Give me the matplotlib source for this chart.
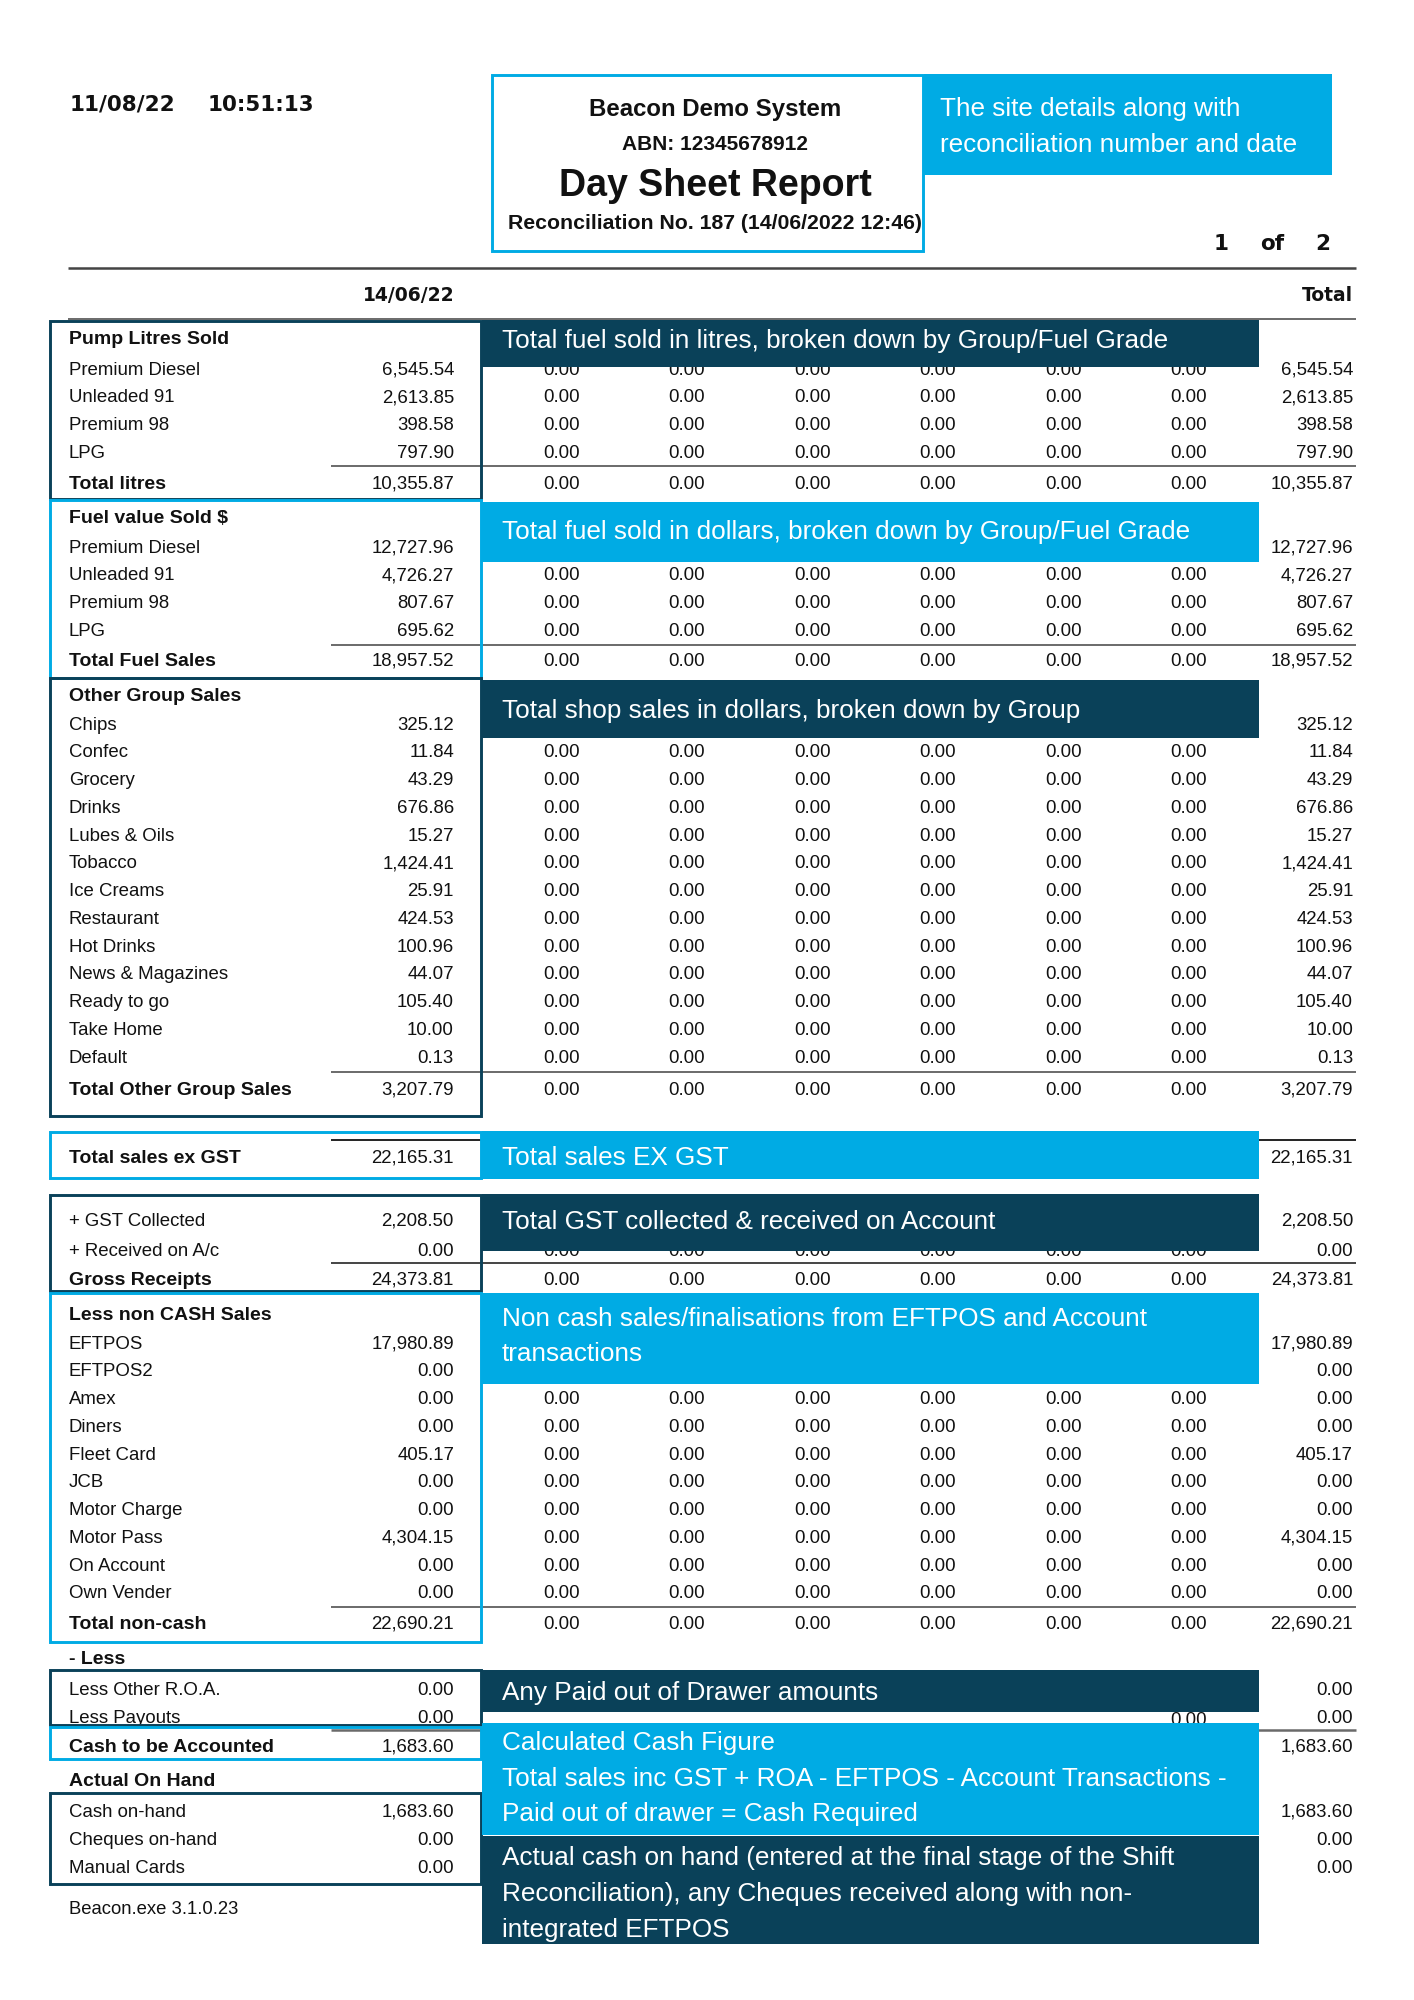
import matplotlib.pyplot as plt
from matplotlib.patches import Rectangle

# report values
pump_labels = ['Premium Diesel', 'Unleaded 91', 'Premium 98', 'LPG']
pump_litres = [6545.54, 2613.85, 398.58, 797.90]
total_litres = 10355.87

fuel_labels = ['Premium Diesel', 'Unleaded 91', 'Premium 98', 'LPG']
fuel_value = [12727.96, 4726.27, 807.67, 695.62]
total_fuel = 18957.52

group_labels = ['Chips', 'Confec', 'Grocery', 'Drinks', 'Lubes & Oils', 'Tobacco',
                'Ice Creams', 'Restaurant', 'Hot Drinks', 'News & Magazines',
                'Ready to go', 'Take Home', 'Default']
group_sales = [325.12, 11.84, 43.29, 676.86, 15.27, 1424.41, 25.91, 424.53,
               100.96, 44.07, 105.40, 10.00, 0.13]
total_group = 3207.79

total_ex_gst = 22165.31
gst_collected = 2208.50
received_on_ac = 0.00
gross_receipts = 24373.81

noncash_labels = ['EFTPOS', 'EFTPOS2', 'Amex', 'Diners', 'Fleet Card', 'JCB',
                  'Motor Charge', 'Motor Pass', 'On Account', 'Own Vender']
noncash_sales = [17980.89, 0.00, 0.00, 0.00, 405.17, 0.00, 0.00, 4304.15, 0.00, 0.00]
total_noncash = 22690.21

less_other_roa = 0.00
less_payouts = 0.00
cash_to_account = 1683.60
on_hand_labels = ['Cash on-hand', 'Cheques on-hand', 'Manual Cards']
on_hand = [1683.60, 0.00, 0.00]

# the six empty shift columns
shift_cols = [0.00, 0.00, 0.00, 0.00, 0.00, 0.00]

notes = {
    'site': 'The site details along with\nreconciliation number and date',
    'litres': 'Total fuel sold in litres, broken down by Group/Fuel Grade',
    'dollars': 'Total fuel sold in dollars, broken down by Group/Fuel Grade',
    'shop': 'Total shop sales in dollars, broken down by Group',
    'exgst': 'Total sales EX GST',
    'gst': 'Total GST collected & received on Account',
    'noncash': 'Non cash sales/finalisations from EFTPOS and Account\ntransactions',
    'payout': 'Any Paid out of Drawer amounts',
    'cash': 'Calculated Cash Figure\nTotal sales inc GST + ROA - EFTPOS - Account Transactions -\nPaid out of drawer = Cash Required',
    'onhand': 'Actual cash on hand (entered at the final stage of the Shift\nReconciliation), any Cheques received along with non-\nintegrated EFTPOS',
}

DARK = '#0a4159'
LIGHT = '#00abe4'
INK = '#111111'
GREY = '#6a6a6a'
FONT = 'Liberation Sans'
WIDE = 'DejaVu Sans'
DPI = 100

fig = plt.figure(figsize=(14.14, 20), dpi=DPI)
ax = fig.add_axes([0, 0, 1, 1])
ax.set_xlim(0, 1414)
ax.set_ylim(2000, 0)
ax.axis('off')

LABEL_X = 69
DAY_X = 454
COL_X = [580, 705, 831, 956, 1082, 1207]
TOT_X = 1353
NOTE_X0, NOTE_X1 = 482, 1259


def txt(x, yc, s, size=13.4, bold=False, ha='left', color=INK, z=2, family=FONT):
    ax.text(x, yc + 0.36 * size * DPI / 72, s, fontsize=size, family=family,
            fontweight='bold' if bold else 'normal', ha=ha, va='baseline',
            color=color, zorder=z)


def row(y, label, day, cols=shift_cols, bold=False, total=True):
    txt(LABEL_X, y, label, size=14 if bold else 13.4, bold=bold)
    txt(DAY_X, y, f'{day:,.2f}', ha='right')
    if cols is not None:
        for x, v in zip(COL_X, cols):
            txt(x, y, f'{v:,.2f}', ha='right')
    if total:
        txt(TOT_X, y, f'{day:,.2f}', ha='right')


def box(y0, y1, color):
    ax.add_patch(Rectangle((50, y0), 431, y1 - y0, fill=False, ec=color,
                           lw=2.1, zorder=3))


def note(y0, y1, key, color, ytext, step=35.5):
    ax.add_patch(Rectangle((NOTE_X0, y0), NOTE_X1 - NOTE_X0, y1 - y0,
                           fc=color, ec='none', zorder=4))
    for i, line in enumerate(notes[key].split('\n')):
        txt(502, ytext + i * step, line, size=18.8, color='white', z=5)


def rule(y, x0=331, x1=1356, lw=1.4, c=GREY):
    ax.plot([x0, x1], [y, y], color=c, lw=lw, zorder=1, solid_capstyle='butt')


# header
txt(70, 103, '11/08/22', size=15.5, bold=True, family=WIDE)
txt(208, 103, '10:51:13', size=15.5, bold=True, family=WIDE)
ax.add_patch(Rectangle((492, 75), 431, 176, fill=False, ec=LIGHT, lw=2.1, zorder=3))
txt(715, 107, 'Beacon Demo System', size=17.3, bold=True, ha='center')
txt(715, 142, 'ABN: 12345678912', size=15, bold=True, ha='center')
txt(715, 182, 'Day Sheet Report', size=27, bold=True, ha='center')
txt(715, 221, 'Reconciliation No. 187 (14/06/2022 12:46)', size=15.3, bold=True, ha='center')
ax.add_patch(Rectangle((924, 74), 408, 101, fc=LIGHT, ec='none', zorder=4))
for i, line in enumerate(notes['site'].split('\n')):
    txt(940, 107 + i * 36, line, size=18.8, color='white', z=5)
txt(1221, 242, '1', size=15.5, bold=True, ha='center', family=WIDE)
txt(1272, 242, 'of', size=15.5, bold=True, ha='center', family=WIDE)
txt(1323, 242, '2', size=15.5, bold=True, ha='center', family=WIDE)
rule(268, 68, 1356, lw=1.8, c='#444444')
txt(455, 294, '14/06/22', size=13.5, bold=True, ha='right', family=WIDE)
txt(TOT_X, 294, 'Total', size=13.5, bold=True, ha='right', family=WIDE)
rule(319, 68, 1356, lw=1.4)

STEP = 27.75

# pump litres
box(321, 499, DARK)
txt(LABEL_X, 337, 'Pump Litres Sold', size=14, bold=True)
for i, (lab, v) in enumerate(zip(pump_labels, pump_litres)):
    row(368 + i * STEP, lab, v)
rule(466)
row(482, 'Total litres', total_litres, bold=True)
note(320, 367, 'litres', DARK, 339)

# fuel value (first row sits under the note)
box(500, 678, LIGHT)
txt(LABEL_X, 516, 'Fuel value Sold $', size=14, bold=True)
for i, (lab, v) in enumerate(zip(fuel_labels, fuel_value)):
    row(546 + i * STEP, lab, v, cols=None if i == 0 else shift_cols)
rule(645)
row(659, 'Total Fuel Sales', total_fuel, bold=True)
note(502, 562, 'dollars', LIGHT, 530)

# other group sales
box(678, 1116, DARK)
txt(LABEL_X, 694, 'Other Group Sales', size=14, bold=True)
for i, (lab, v) in enumerate(zip(group_labels, group_sales)):
    row(723 + i * STEP, lab, v, cols=None if i == 0 else shift_cols)
rule(1072)
row(1088, 'Total Other Group Sales', total_group, bold=True)
note(680, 738, 'shop', DARK, 709)

# total sales ex gst
rule(1140, lw=1.4, c='#222222')
box(1132, 1178, LIGHT)
row(1156, 'Total sales ex GST', total_ex_gst, cols=None, bold=True)
note(1131, 1179, 'exgst', LIGHT, 1156)

# gst and receipts
box(1195, 1291, DARK)
row(1219, '+ GST Collected', gst_collected, cols=None)
row(1249, '+ Received on A/c', received_on_ac)
rule(1263, c='#444444')
row(1278, 'Gross Receipts', gross_receipts, bold=True)
note(1194, 1251, 'gst', DARK, 1220)

# non cash
box(1293, 1642, LIGHT)
txt(LABEL_X, 1313, 'Less non CASH Sales', size=14, bold=True)
for i, (lab, v) in enumerate(zip(noncash_labels, noncash_sales)):
    row(1342 + i * STEP, lab, v, cols=None if i < 2 else shift_cols)
rule(1607)
row(1622, 'Total non-cash', total_noncash, bold=True)
note(1293, 1384, 'noncash', LIGHT, 1317, step=35)

# less
txt(LABEL_X, 1657, '- Less', size=14, bold=True)
box(1670, 1725, DARK)
row(1688, 'Less Other R.O.A.', less_other_roa, cols=None)
row(1716, 'Less Payouts', less_payouts, cols=None)
txt(COL_X[-1], 1718, f'{shift_cols[-1]:,.2f}', ha='right')
note(1670, 1712, 'payout', DARK, 1691)

rule(1730, lw=1.8)
box(1727, 1759, LIGHT)
row(1745, 'Cash to be Accounted', cash_to_account, cols=None, bold=True)
note(1723, 1835, 'cash', LIGHT, 1741, step=35.5)

txt(LABEL_X, 1779, 'Actual On Hand', size=14, bold=True)
box(1793, 1884, DARK)
for i, (lab, v) in enumerate(zip(on_hand_labels, on_hand)):
    row(1810 + i * 28, lab, v, cols=None)
note(1836, 1944, 'onhand', DARK, 1856, step=36)

txt(LABEL_X, 1907, 'Beacon.exe 3.1.0.23', size=13.3)

fig.savefig('out.png', dpi=DPI, facecolor='white')
